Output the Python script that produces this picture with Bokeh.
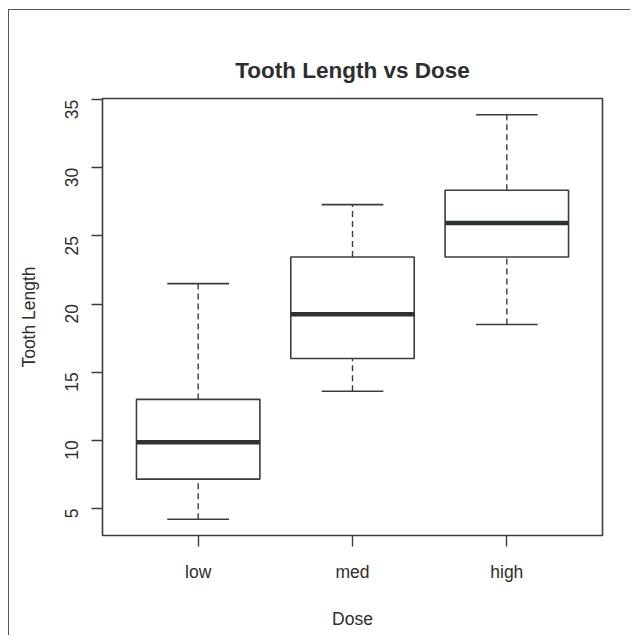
import math
import numpy as np
from bokeh.plotting import figure
from bokeh.models import Range1d, FixedTicker
from bokeh.embed import file_html
from bokeh.resources import INLINE

# ToothGrowth-style summary (R boxplot hinges)
doses = ["low", "med", "high"]
lower_whisker = [4.2, 13.6, 18.5]
lower_hinge = [7.15, 16.0, 23.45]
medians = [9.85, 19.25, 25.95]
upper_hinge = [13.0, 23.45, 28.35]
upper_whisker = [21.5, 27.3, 33.9]
y_ticks = [5, 10, 15, 20, 25, 30, 35]

LINE = "#3c3c3c"
TEXT = "#2e2e2e"
FONT = "Liberation Sans"

xs = np.arange(1, len(doses) + 1, dtype=float)
box_half = 0.4
cap_half = 0.2

# R-style axis extension of 4%
ymin, ymax = min(lower_whisker), max(upper_whisker)
ypad = 0.04 * (ymax - ymin)
xlo, xhi = 0.5, len(doses) + 0.5
xpad = 0.04 * (xhi - xlo)

p = figure(
    frame_width=500, frame_height=437,
    min_border_left=93, min_border_right=28,
    min_border_top=88, min_border_bottom=100,
    x_range=Range1d(xlo - xpad, xhi + xpad),
    y_range=Range1d(ymin - ypad, ymax + ypad),
    output_backend="svg", toolbar_location=None,
    title="Tooth Length vs Dose",
)
p.styles = {"border-top": "1.5px solid #555", "border-left": "1.5px solid #555",
            "margin-left": "8px", "margin-top": "9px"}

p.title.align = "center"
p.title.text_font = FONT
p.title.text_font_size = "22.5px"
p.title.text_font_style = "bold"
p.title.text_color = TEXT
p.title.standoff = 31

p.xgrid.visible = False
p.ygrid.visible = False
p.outline_line_color = LINE
p.outline_line_width = 1.6
p.background_fill_color = "white"
p.border_fill_color = "white"

# whiskers (dashed)
p.segment(x0=xs, y0=upper_hinge, x1=xs, y1=upper_whisker, line_color=LINE, line_width=1.4, line_dash="6 4")
p.segment(x0=xs, y0=lower_whisker, x1=xs, y1=lower_hinge, line_color=LINE, line_width=1.4, line_dash="6 4")
# caps
p.segment(x0=xs - cap_half, y0=upper_whisker, x1=xs + cap_half, y1=upper_whisker, line_color=LINE, line_width=1.6)
p.segment(x0=xs - cap_half, y0=lower_whisker, x1=xs + cap_half, y1=lower_whisker, line_color=LINE, line_width=1.6)
# boxes
p.quad(left=xs - box_half, right=xs + box_half, bottom=lower_hinge, top=upper_hinge,
       fill_color="white", line_color=LINE, line_width=1.6)
# medians
p.segment(x0=xs - box_half, y0=medians, x1=xs + box_half, y1=medians, line_color="#2f332f", line_width=4.5)

# axes
xa = p.xaxis[0]
xa.ticker = FixedTicker(ticks=list(xs))
overrides = {float(x): d for x, d in zip(xs, doses)}
overrides.update({int(x): d for x, d in zip(xs, doses)})
xa.major_label_overrides = overrides
xa.axis_label = "Dose"

ya = p.yaxis[0]
ya.ticker = FixedTicker(ticks=y_ticks)
ya.axis_label = "Tooth Length"
ya.major_label_orientation = math.pi / 2

for ax in (xa, ya):
    ax.axis_line_color = None
    ax.minor_tick_line_color = None
    ax.major_tick_line_color = LINE
    ax.major_tick_line_width = 1.4
    ax.major_tick_out = 11
    ax.major_tick_in = 0
    ax.major_label_text_font = FONT
    ax.major_label_text_font_size = "17.5px"
    ax.major_label_text_color = TEXT
    ax.axis_label_text_font = FONT
    ax.axis_label_text_font_size = "17.5px"
    ax.axis_label_text_font_style = "normal"
    ax.axis_label_text_color = TEXT

xa.major_label_standoff = 15
xa.axis_label_standoff = 24
ya.major_label_standoff = 20
ya.axis_label_standoff = 17

open("out.html", "w").write(file_html(p, INLINE))
